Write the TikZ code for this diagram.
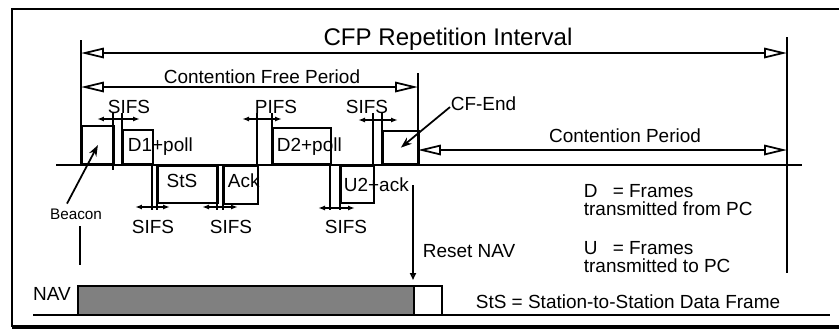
\documentclass[tikz,border=0pt]{standalone}
\usepackage{fontspec}
\setmainfont{Liberation Sans}
\usetikzlibrary{arrows.meta, positioning}

\begin{document}
\begin{tikzpicture}[
      x=0.02cm, y=-0.02cm,
      line width=1pt,
      framebox/.style 2 args={
            draw, line width=1pt, inner sep=0pt,
            minimum width=#1*0.02cm, minimum height=#2*0.02cm
      },
      lbl/.style={inner sep=0pt, font=\fontsize{10.8}{12}\selectfont},
      period/.style={arrows={Triangle[open, length=0.46cm, width=0.21cm]-Triangle[open, length=0.46cm, width=0.21cm]}},
      ifs/.style={arrows={Latex[length=0.14cm, width=0.1cm]-Latex[length=0.14cm, width=0.1cm]}},
      pointer/.style={arrows={-Stealth[length=0.22cm, width=0.16cm]}},
]
\useasboundingbox (0,0) rectangle (839,332);

% outer frame
\draw[line width=1.2pt] (839,9) -- (12,9) -- (12,327);
\draw[line width=2.6pt] (12,327) -- (839,327);

% time markers and medium line
\draw (81,40) -- (81,165);
\draw (80,226) -- (80,265);
\draw (418,73) -- (418,165);
\draw (787,37) -- (787,273);
\draw (56,165) -- (802,165);

% periods
\coordinate (cfpL) at (81,53);
\coordinate (cfpR) at (787,53);
\coordinate (freeL) at (81,87);
\coordinate (freeR) at (418,87);
\coordinate (contL) at (418,150);
\coordinate (contR) at (787,150);
\draw[period] (cfpL) -- (cfpR);
\draw[period] (freeL) -- (freeR);
\draw[period] (contL) -- (contR);
\node[lbl, anchor=base, font=\fontsize{13.7}{16}\selectfont] (cfp) at (448,45) {CFP Repetition Interval};
\node[lbl, anchor=base] (free) at (262,83) {Contention Free Period};
\node[lbl, anchor=base] (cont) at (625,142) {Contention Period};

% frames
\node[framebox={32}{38}, anchor=south west] (beacon) at (81,165) {};
\node[framebox={30}{34}, anchor=south west] (d1) at (122,165) {};
\node[framebox={60}{37}, anchor=north west] (sts) at (157,165) {};
\node[framebox={34}{38}, anchor=north west] (ack) at (223,165) {};
\node[framebox={58}{36}, anchor=south west] (d2) at (272,165) {};
\node[framebox={33}{37}, anchor=north west] (u2) at (340,165) {};
\node[framebox={36}{33}, anchor=south west] (cfend) at (382,165) {};

\node[lbl, anchor=base west] (d1lbl) at (127,151) {D1+poll};
\node[lbl, anchor=base] (stslbl) at (182,187) {StS};
\node[lbl, anchor=base west] (acklbl) at (227,187) {Ack};
\node[lbl, anchor=base west] (d2lbl) at (276,151) {D2+poll};
\node[lbl, anchor=base west] (u2lbl) at (343,191) {U2+ack};

% gap ticks
\draw (113,113) -- (113,170);
\draw (122,113) -- (122,165);
\draw (152,165) -- (152,210);
\draw (157,165) -- (157,210);
\draw (217,165) -- (217,210);
\draw (223,165) -- (223,210);
\draw (257,113) -- (257,165);
\draw (272,113) -- (272,165);
\draw (330,165) -- (330,210);
\draw (340,165) -- (340,210);
\draw (373,113) -- (373,165);
\draw (382,113) -- (382,165);

% interframe spaces
\draw[ifs] (97,119) -- (140,119);
\draw[ifs] (135,207) -- (170,207);
\draw[ifs] (202,207) -- (238,207);
\draw[ifs] (242,119) -- (282,119);
\draw[ifs] (318,208) -- (355,208);
\draw[ifs] (358,120) -- (398,120);
\node[lbl, anchor=base] (sifsa) at (129,113) {SIFS};
\node[lbl, anchor=base] (sifsb) at (153,233) {SIFS};
\node[lbl, anchor=base] (sifsc) at (231,233) {SIFS};
\node[lbl, anchor=base] (pifs) at (276,113) {PIFS};
\node[lbl, anchor=base] (sifsd) at (346,233) {SIFS};
\node[lbl, anchor=base] (sifse) at (367,113) {SIFS};

% callouts
\node[lbl, anchor=base, font=\fontsize{8.7}{10}\selectfont] (beaconlbl) at (76,219) {Beacon};
\draw[pointer] ([xshift=-0.18cm, yshift=0.08cm]beaconlbl.north) -- (beacon.center);
\node[lbl, anchor=base west] (cfendlbl) at (450,110) {CF-End};
\draw[pointer] ([yshift=0.08cm]cfendlbl.south west) -- (cfend.center);

% NAV
\node[framebox={336}{29}, anchor=north west, fill=black!50] (navbar) at (77,285) {};
\node[framebox={28}{29}, anchor=north west] (navend) at (413,285) {};
\draw (33,315) -- (830,315);
\node[lbl, anchor=base] (navlbl) at (52,300) {NAV};
\coordinate (reset) at (413,185);
\draw[arrows={-Triangle[open, length=0.14cm, width=0.12cm]}, shorten >=0.1cm] (reset) -- (navend.north west);
\node[lbl, anchor=base west] (resetlbl) at (422,257) {Reset NAV};

% key
\node[lbl, anchor=base west] (dkey) at (583,197) {D\hspace{0.8em}= Frames};
\node[lbl, anchor=base west] (dtext) at (583,215) {transmitted from PC};
\node[lbl, anchor=base west] (ukey) at (583,254) {U\hspace{0.8em}= Frames};
\node[lbl, anchor=base west] (utext) at (583,272) {transmitted to PC};
\node[lbl, anchor=base west] (stskey) at (475,308) {StS = Station-to-Station Data Frame};
\end{tikzpicture}
\end{document}
